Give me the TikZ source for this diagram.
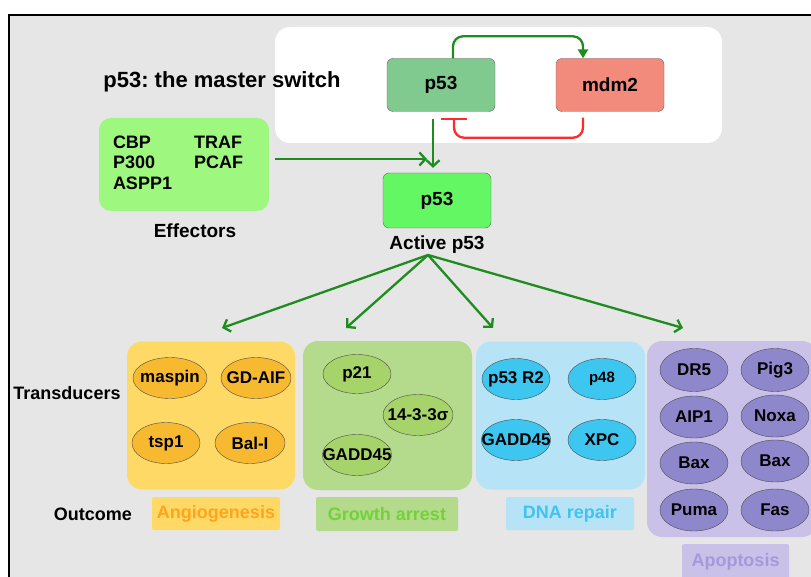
\documentclass[tikz,border=0pt]{standalone}
\usepackage{fontspec}
\setmainfont{Liberation Sans}
\frenchspacing
\usetikzlibrary{arrows.meta, positioning, calc, shapes.geometric}

\definecolor{bggrey}{HTML}{E6E6E6}
\definecolor{arrowgreen}{HTML}{1E8C1E}
\definecolor{inhibred}{HTML}{FF2A2A}
\definecolor{pfill}{HTML}{80C98F}
\definecolor{mdmfill}{HTML}{F28B7B}
\definecolor{efffill}{HTML}{9EF77E}
\definecolor{actfill}{HTML}{64F764}
\definecolor{angpanel}{HTML}{FFD966}
\definecolor{angoval}{HTML}{F7B92F}
\definecolor{angtext}{HTML}{FFA41B}
\definecolor{grwpanel}{HTML}{B4DA8C}
\definecolor{grwoval}{HTML}{A6D46B}
\definecolor{grwtext}{HTML}{74D13A}
\definecolor{dnapanel}{HTML}{B6E3F5}
\definecolor{dnaoval}{HTML}{3CC6F0}
\definecolor{dnatext}{HTML}{3FC3F1}
\definecolor{apopanel}{HTML}{C9C1E8}
\definecolor{apooval}{HTML}{8F87CB}
\definecolor{apotext}{HTML}{A49ADB}

\begin{document}
\begin{tikzpicture}[
  x=1pt, y=-1pt,
  box/.style = {draw=black!60, rounded corners=6pt, minimum width=108pt, minimum height=53pt, font=\fontsize{19}{21}\selectfont\bfseries},
  panel/.style = {rounded corners=15pt, minimum width=169pt, minimum height=148pt},
  oval/.style = {ellipse, draw=black!70, inner xsep=-10pt, inner ysep=-4pt, minimum width=68pt, minimum height=41pt, font=\fontsize{17}{19}\selectfont\bfseries},
  outlbl/.style = {rounded corners=2pt, minimum width=128pt, minimum height=33pt, font=\fontsize{18}{20}\selectfont\bfseries},
  lbl/.style = {inner sep=0pt, font=\fontsize{19}{21}\selectfont\bfseries},
  arrow/.style = {draw=arrowgreen, line width=2.3pt, -{Straight Barb[length=6pt, width=13pt]}}
]

  \useasboundingbox (0,0) rectangle (811,577);
  \clip (0,0) rectangle (811,577);
  \fill[white] (0,0) rectangle (811,577);
  \draw[line width=1.2pt, fill=bggrey] (9,15) rectangle (830,600);

  % the master switch
  \fill[white, rounded corners=15pt] (275,27) rectangle (722,143);
  \node[lbl, font=\fontsize{22}{24}\selectfont\bfseries] (title) at (222,82) {p53: the master switch};
  \node[box, fill=pfill] (p53) at (441,85) {p53};
  \node[box, fill=mdmfill] (mdm2) at (610,85) {mdm2};

  \draw[arrowgreen, line width=2.3pt, rounded corners=10pt, -{Triangle[length=9pt, width=10pt]}]
    ([xshift=12pt]p53.north) -- ++(0,-22) -| ([xshift=-27pt]mdm2.north);
  \draw[inhibred, line width=2.3pt, rounded corners=10pt, shorten <=6pt, shorten >=6pt, -{Bar[width=26pt]}]
    ([xshift=-27pt]mdm2.south) -- ++(0,26) -| ([xshift=13pt]p53.south);

  % effectors and active p53
  \node[rounded corners=12pt, fill=efffill, minimum height=93pt, text width=142pt, inner xsep=14pt, align=left,
        font=\fontsize{18}{20.5}\selectfont\bfseries] (eff) at (184,164.5)
    {\begin{tabular}{@{}l@{\hspace{22pt}}l@{}}CBP & TRAF\\ P300 & PCAF\\ ASPP1 & \end{tabular}};
  \node[lbl, below=12pt of eff, xshift=11pt] (efflbl) {Effectors};

  \node[box, fill=actfill, minimum height=55pt] (act) at (437,200.5) {p53};
  \node[lbl, below=7pt of act] (actlbl) {Active p53};

  \draw[arrow, shorten <=7pt, shorten >=5pt] ([xshift=-8pt]p53.south) -- ([xshift=-8pt]p53.south |- act.north);
  \draw[arrow, shorten <=6pt, shorten >=10pt] ([yshift=5.5pt]eff.east) -- ([yshift=5.5pt]eff.east -| act.north);

  % fan out to the transducers
  \coordinate (fan) at (428,255);
  \coordinate (toAng) at (222,328);
  \coordinate (toGrw) at (346,328);
  \coordinate (toDna) at (493,328);
  \coordinate (toApo) at (683,328);
  \foreach \t in {toAng, toGrw, toDna, toApo}
    \draw[arrow] (fan) -- (\t);

  % row labels
  \node[lbl, font=\fontsize{18}{20}\selectfont\bfseries] (trans) at (67,393) {Transducers};
  \node[lbl, font=\fontsize{18}{20}\selectfont\bfseries] (outc) at (93,514) {Outcome};

  % angiogenesis
  \node[panel, fill=angpanel, minimum width=168pt] (ang) at (211,415.5) {};
  \node[oval, fill=angoval, minimum width=74pt] (maspin) at (170,378) {maspin};
  \node[oval, fill=angoval, minimum width=70pt] (gdaif) at (256,378) {GD-AIF};
  \node[oval, fill=angoval] (tsp) at (166,443) {tsp1};
  \node[oval, fill=angoval, minimum width=70pt] (bal) at (250,443) {Bal-I};
  \node[outlbl, fill=angpanel, text=angtext] (anglbl) at (216,513.5) {Angiogenesis};

  % growth arrest
  \node[panel, fill=grwpanel, minimum height=149pt] (grw) at (387.5,415.5) {};
  \node[oval, fill=grwoval, minimum height=39pt] (p21) at (357,374) {p21};
  \node[oval, fill=grwoval, minimum width=70pt] (sigma) at (418,415) {14-3-3σ};
  \node[oval, fill=grwoval] (gaddG) at (357,455) {GADD45};
  \node[outlbl, fill=grwpanel, text=grwtext, minimum width=142pt, minimum height=34pt] (grwlbl) at (387,514) {Growth arrest};

  % DNA repair
  \node[panel, fill=dnapanel] (dna) at (560.5,415.5) {};
  \node[oval, fill=dnaoval] (r2) at (516,379) {p53 R2};
  \node[oval, fill=dnaoval, font=\fontsize{15}{17}\selectfont\bfseries] (p48) at (602,379) {p48};
  \node[oval, fill=dnaoval] (gaddD) at (516,440) {GADD45};
  \node[oval, fill=dnaoval] (xpc) at (602,440) {XPC};
  \node[outlbl, fill=dnapanel, text=dnatext] (dnalbl) at (570,513.5) {DNA repair};

  % apoptosis
  \node[panel, fill=apopanel, minimum width=170pt, minimum height=196pt] (apo) at (732,439) {};
  \node[oval, fill=apooval, minimum height=43pt] (dr5) at (694,370) {DR5};
  \node[oval, fill=apooval, minimum height=43pt] (pig) at (775,370) {Pig3};
  \node[oval, fill=apooval, minimum height=42pt] (aip) at (694,417) {AIP1};
  \node[oval, fill=apooval, minimum height=42pt] (noxa) at (775,416) {Noxa};
  \node[oval, fill=apooval, minimum height=42pt] (baxA) at (694,463) {Bax};
  \node[oval, fill=apooval, minimum height=42pt] (baxB) at (775,461) {Bax};
  \node[oval, fill=apooval, minimum height=42pt] (puma) at (694,510) {Puma};
  \node[oval, fill=apooval, minimum height=42pt] (fas) at (775,510) {Fas};
  \node[outlbl, fill=apopanel, text=apotext, minimum width=107pt, minimum height=36pt] (apolbl) at (735.5,562) {Apoptosis};

\end{tikzpicture}
\end{document}
